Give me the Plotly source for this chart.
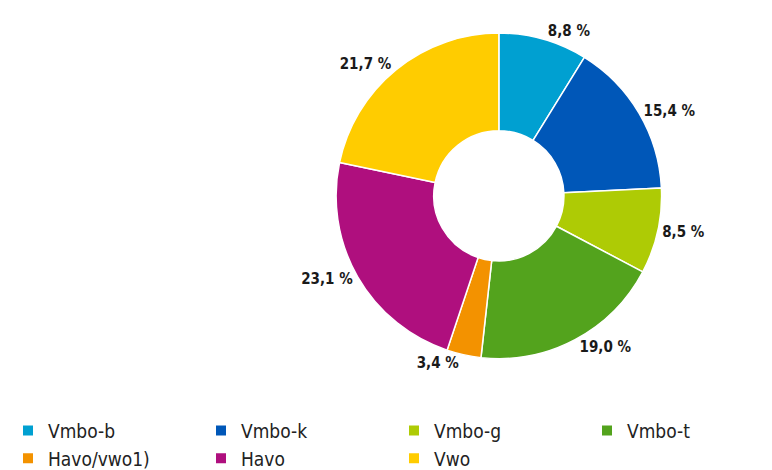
import plotly.graph_objects as go

labels = ["Vmbo-b", "Vmbo-k", "Vmbo-g", "Vmbo-t", "Havo/vwo1)", "Havo", "Vwo"]
values = [8.8, 15.4, 8.5, 19.0, 3.4, 23.1, 21.7]
colors = ["#00A0D1", "#0057B8", "#AECB05", "#53A31D", "#F39200", "#AF0F7E", "#FFCC00"]

text = [f"{v:.1f} %".replace(".", ",") for v in values]

FONT = "DejaVu Sans Condensed, Liberation Sans Narrow, sans-serif"

fig = go.Figure()
fig.add_trace(go.Pie(
    labels=labels,
    values=values,
    text=text,
    texttemplate="<b>%{text}</b>",
    textposition="outside",
    textfont={"size": 15, "color": "#1a1a1a", "family": FONT},
    hole=0.4,
    sort=False,
    direction="clockwise",
    rotation=0,
    marker={"colors": colors, "line": {"color": "white", "width": 1.5}},
    domain={"x": [0.383, 0.881], "y": [0.246, 0.946]},
    showlegend=True,
))

fig.update_layout(
    width=772,
    height=470,
    paper_bgcolor="white",
    plot_bgcolor="white",
    margin={"l": 0, "r": 0, "t": 0, "b": 0},
    font={"family": FONT, "color": "#222"},
    legend={
        "orientation": "h",
        "x": -0.01,
        "y": -0.01,
        "xanchor": "left",
        "yanchor": "bottom",
        "entrywidth": 148,
        "font": {"size": 19},
        "traceorder": "normal",
        "itemsizing": "constant",
    },
)

fig.write_html("out.html")
